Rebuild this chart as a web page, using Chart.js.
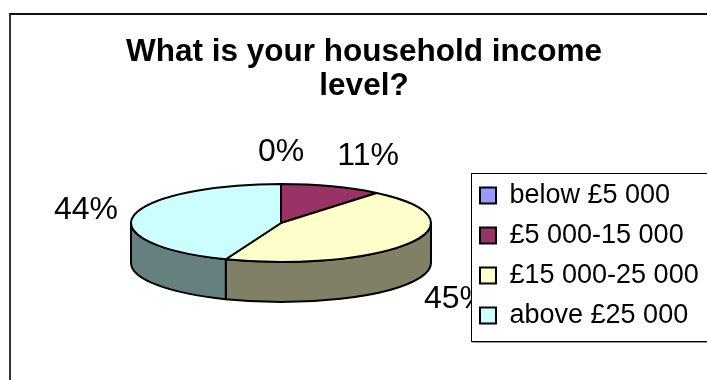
<!DOCTYPE html>
<html>
<head>
<meta charset="utf-8">
<title>Household income</title>
<script src="https://cdn.jsdelivr.net/npm/chart.js@4.4.1/dist/chart.umd.min.js"></script>
<style>
  html, body { margin: 0; padding: 0; background: #fff; overflow: hidden; }
  #frame { position: absolute; left: 9px; top: 13px; border-top: 2px solid #111; border-left: 2px solid #333; }
  #frame canvas { display: block; }
</style>
</head>
<body>
<div id="frame"><canvas id="incomeChart" width="706" height="365"></canvas></div>
<script>
const categories = ['below £5 000', '£5 000-15 000', '£15 000-25 000', 'above £25 000'];
const shares = [0, 11, 45, 44];
const sliceColours = ['#9999FF', '#993366', '#FFFFCC', '#CCFFFF'];

const TILT = 0.26;   // top face height / width
const DEPTH = 40;    // thickness of the pie

function shade(hex, k) {
    var n = parseInt(hex.slice(1), 16);
    var r = Math.round(((n >> 16) & 255) * k);
    var g = Math.round(((n >> 8) & 255) * k);
    var b = Math.round((n & 255) * k);
    return 'rgb(' + r + ',' + g + ',' + b + ')';
}

function arcGeom(arc) {
    return arc.getProps(['x', 'y', 'startAngle', 'endAngle', 'outerRadius']);
}

// draws the slices as a tilted disc with a visible front wall
const pie3d = {
    id: 'pie3d',
    beforeDatasetsDraw(chart) {
        const ctx = chart.ctx;
        const arcs = chart.getDatasetMeta(0).data;
        ctx.save();
        ctx.lineWidth = 2;
        ctx.lineJoin = 'round';
        ctx.strokeStyle = '#000';
        arcs.forEach(function(arc) {
            const g = arcGeom(arc);
            const cy = g.y - DEPTH / 2, rx = g.outerRadius, ry = g.outerRadius * TILT;
            const lo = Math.max(g.startAngle, 0), hi = Math.min(g.endAngle, Math.PI);
            if (hi <= lo) return;
            ctx.beginPath();
            ctx.ellipse(g.x, cy, rx, ry, 0, lo, hi);
            ctx.lineTo(g.x + rx * Math.cos(hi), cy + DEPTH + ry * Math.sin(hi));
            ctx.ellipse(g.x, cy + DEPTH, rx, ry, 0, hi, lo, true);
            ctx.closePath();
            ctx.fillStyle = shade(arc.options.backgroundColor, 0.5);
            ctx.fill();
            ctx.stroke();
        });
        arcs.forEach(function(arc) {
            const g = arcGeom(arc);
            const cy = g.y - DEPTH / 2, rx = g.outerRadius, ry = g.outerRadius * TILT;
            ctx.beginPath();
            ctx.moveTo(g.x, cy);
            ctx.ellipse(g.x, cy, rx, ry, 0, g.startAngle, g.endAngle);
            ctx.closePath();
            ctx.fillStyle = arc.options.backgroundColor;
            ctx.fill();
            ctx.stroke();
        });
        ctx.restore();
        return false;
    }
};

// percentage labels outside the slices, then the legend frame on top of them
const outsideLabels = {
    id: 'outsideLabels',
    afterLayout(chart) {
        // legend keeps a narrow slot in the layout but its text runs on to the edge
        chart.legend.right = chart.width;
    },
    beforeDraw(chart) {
        const ctx = chart.ctx;
        const arcs = chart.getDatasetMeta(0).data;
        ctx.save();
        ctx.font = '32px Arial, "Liberation Sans", sans-serif';
        ctx.fillStyle = '#000';
        ctx.textBaseline = 'middle';
        arcs.forEach(function(arc, i) {
            const g = arcGeom(arc);
            const mid = (g.startAngle + g.endAngle) / 2;
            const c = Math.cos(mid), s = Math.sin(mid);
            const top = g.y - DEPTH / 2;
            const ry = g.outerRadius * TILT;
            ctx.textAlign = c > 0.05 ? 'left' : (c < -0.05 ? 'right' : 'center');
            ctx.fillText(shares[i] + '%',
                g.x + (g.outerRadius + 16) * c,
                (s > 0 ? top + DEPTH : top) + (ry + 32) * s);
        });

        const lg = chart.legend;
        const boxes = lg.legendHitBoxes;
        const first = boxes[0], last = boxes[boxes.length - 1];
        const left = Math.round(lg.left) + 4.5;
        const top = Math.round(first.top) - 8.5;
        const bottom = Math.round(last.top + last.height) + 12.5;
        const right = chart.width + 10;
        ctx.fillStyle = '#fff';
        ctx.fillRect(left, top, right - left, bottom - top);
        ctx.lineWidth = 1;
        ctx.strokeStyle = '#000';
        ctx.strokeRect(left, top, right - left, bottom - top);
        ctx.strokeStyle = '#999';
        ctx.beginPath();
        ctx.moveTo(left + 1, bottom + 1);
        ctx.lineTo(right, bottom + 1);
        ctx.stroke();
        ctx.restore();
    }
};

Chart.defaults.font.family = 'Arial, "Liberation Sans", sans-serif';
Chart.defaults.color = '#000';

new Chart(document.getElementById('incomeChart').getContext('2d'), {
    type: 'pie',
    data: {
        labels: categories,
        datasets: [{
            data: shares,
            backgroundColor: sliceColours,
            borderColor: '#000',
            borderWidth: 2,
            radius: 150
        }]
    },
    options: {
        responsive: false,
        animation: false,
        events: [],
        layout: {
            padding: { left: 84, right: 84, top: 0, bottom: 38 }
        },
        plugins: {
            title: {
                display: true,
                text: ['What is your household income', 'level?'],
                color: '#000',
                font: { size: 31.5, weight: 'bold', lineHeight: '34px' },
                padding: { top: 20, bottom: 41 }
            },
            legend: {
                position: 'right',
                align: 'end',
                maxWidth: 166,
                labels: {
                    color: '#000',
                    font: { size: 27 },
                    boxWidth: 16,
                    boxHeight: 16,
                    padding: 13
                }
            },
            tooltip: { enabled: false }
        }
    },
    plugins: [pie3d, outsideLabels]
});
</script>
</body>
</html>
